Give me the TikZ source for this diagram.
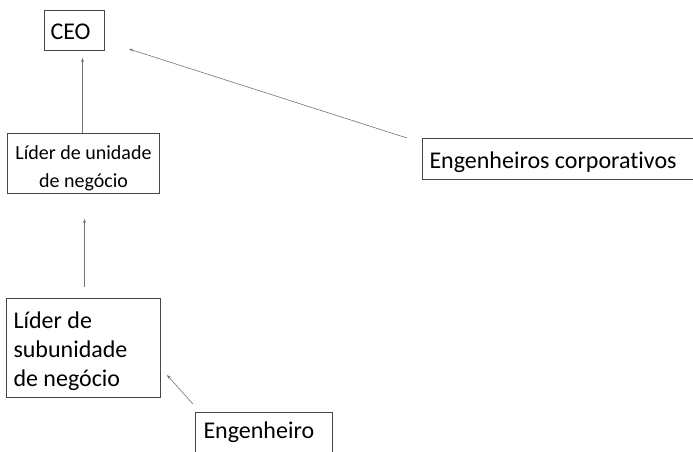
\documentclass[tikz,border=0pt]{standalone}
\usepackage{fontspec}
\setmainfont{Carlito}[Ligatures=NoCommon]
\usetikzlibrary{arrows.meta,calc}
\begin{document}
\begin{tikzpicture}[x=1pt,y=-1pt,
  box/.style={draw=black!72,line width=1pt,inner ysep=0pt,text=black,anchor=north west},
  big/.style={font=\fontsize{24}{29}\selectfont},
  link/.style={draw=black!55,line width=0.6pt,-{Stealth[length=4pt,width=3pt]}}]
  \useasboundingbox (0,0) rectangle (693,451);
  \clip (0,0) rectangle (693,451);
  % org chart boxes (placed by their top-left corners)
  \node[box,big,inner xsep=6pt,text width=48pt,align=flush left,
        text height=29pt,text depth=11pt] (ceo) at (44,10) {CEO};
  \node[box,font=\fontsize{20}{28}\selectfont,inner xsep=5pt,text width=142pt,align=flush center,
        text height=26pt,text depth=34pt] (unid) at (7,133)
    {Líder de unidade\\de negócio};
  \node[box,big,inner xsep=7pt,text width=140pt,align=flush left,
        text height=30pt,text depth=69pt] (sub) at (6,298)
    {Líder de\\subunidade\\de negócio};
  \node[box,big,inner xsep=7pt,text width=266pt,align=flush left,
        text height=30pt,text depth=11pt] (corp) at (422,138)
    {Engenheiros corporativos};
  \node[box,big,inner xsep=8pt,text width=121pt,align=flush left,
        text height=26pt,text depth=34pt] (eng) at (195,412)
    {Engenheiro};
  % reporting lines
  \draw[link] ($(unid.north)+(-1,0)$) -- ($(ceo.south)+(8,7)$);
  \draw[link] ($(sub.north)+(1,-11)$) -- ($(unid.south)+(1,25)$);
  \draw[link] ($(corp.north west)+(-15,0)$) -- ($(ceo.south east)+(24,-2)$);
  \draw[link] ($(eng.north west)+(-2,-8)$) -- ($(sub.south east)+(6,-23)$);
\end{tikzpicture}
\end{document}
